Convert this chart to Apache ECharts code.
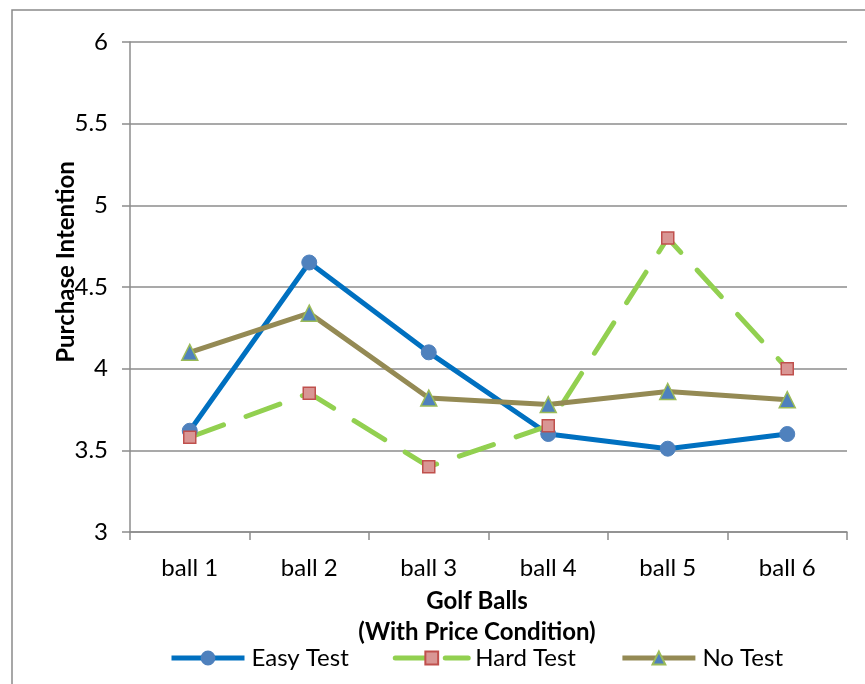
<!DOCTYPE html>
<html><head><meta charset="utf-8">
<script src="https://cdn.jsdelivr.net/npm/echarts@6/dist/echarts.min.js"></script>
<style>html,body{margin:0;padding:0;background:#fff}#c{width:865px;height:684px}</style>
</head><body><div id="c"></div>
<script>
const categories = ['ball 1','ball 2','ball 3','ball 4','ball 5','ball 6'];
const easyTest = [3.62, 4.65, 4.10, 3.60, 3.51, 3.60];
const hardTest = [3.58, 3.85, 3.40, 3.65, 4.80, 4.00];
const noTest   = [4.10, 4.34, 3.82, 3.78, 3.86, 3.81];
const seriesNames = ['Easy Test','Hard Test','No Test'];
const FONT = 'Lato, "Open Sans", sans-serif';
const FS = 24;
const grey = '#8c8c8c';
const chart = echarts.init(document.getElementById('c'), null, {renderer:'canvas'});
chart.setOption({
  animation:false,
  textStyle:{fontFamily:FONT},
  grid:{left:130,right:18,top:42,bottom:152,containLabel:false},
  graphic:[
    {type:'rect',shape:{x:12,y:10,width:900,height:800},style:{fill:'none',stroke:'#8a8a8a',lineWidth:1.5},silent:true,z:-10},
    {type:'text',x:66,y:262,rotation:Math.PI/2,style:{text:'Purchase Intention',font:'bold '+FS+'px '+FONT,fill:'#000',align:'center',verticalAlign:'middle'}},
    {type:'text',x:477,y:601,style:{text:'Golf Balls',font:'bold '+FS+'px '+FONT,fill:'#000',align:'center',verticalAlign:'middle'}},
    {type:'text',x:477,y:632,style:{text:'(With Price Condition)',font:'bold '+FS+'px '+FONT,fill:'#000',align:'center',verticalAlign:'middle'}}
  ],
  legend:{
    data:[
      {name:seriesNames[0],lineStyle:{width:5}},
      {name:seriesNames[1],lineStyle:{width:5,type:[30,20],cap:'round'}},
      {name:seriesNames[2],lineStyle:{width:5}}
    ],
    left:164,top:641,itemWidth:73,itemHeight:16,itemGap:44,
    textStyle:{fontSize:FS,fontFamily:FONT,color:'#000',padding:[0,0,0,2]}
  },
  xAxis:{
    type:'category',data:categories,
    axisLine:{lineStyle:{color:grey,width:1.5}},
    axisTick:{show:true,length:8,lineStyle:{color:grey,width:1.5}},
    axisLabel:{color:'#000',fontSize:FS,fontFamily:FONT,margin:24},
    splitLine:{show:false}
  },
  yAxis:{
    type:'value',min:3,max:6,interval:0.5,
    axisLine:{show:true,lineStyle:{color:grey,width:1.5}},
    axisTick:{show:true,length:8,lineStyle:{color:grey,width:1.5}},
    axisLabel:{color:'#000',fontSize:FS,fontFamily:FONT,margin:22},
    splitLine:{show:true,lineStyle:{color:grey,width:1.5}}
  },
  series:[
    {name:seriesNames[0],type:'line',data:easyTest,symbol:'circle',symbolSize:15,
     lineStyle:{color:'#0070C0',width:5},itemStyle:{color:'#4F81BD',borderColor:'#4F81BD',borderWidth:1}},
    {name:seriesNames[1],type:'line',data:hardTest,symbol:'rect',symbolSize:12,
     lineStyle:{color:'#92D050',width:5,type:[36,24],cap:'round'},itemStyle:{color:'#D99694',borderColor:'#C0504D',borderWidth:1.5}},
    {name:seriesNames[2],type:'line',data:noTest,symbol:'triangle',symbolSize:16,
     lineStyle:{color:'#948A54',width:5},itemStyle:{color:'#4F81BD',borderColor:'#9BBB59',borderWidth:1.5}}
  ]
});
</script></body></html>
